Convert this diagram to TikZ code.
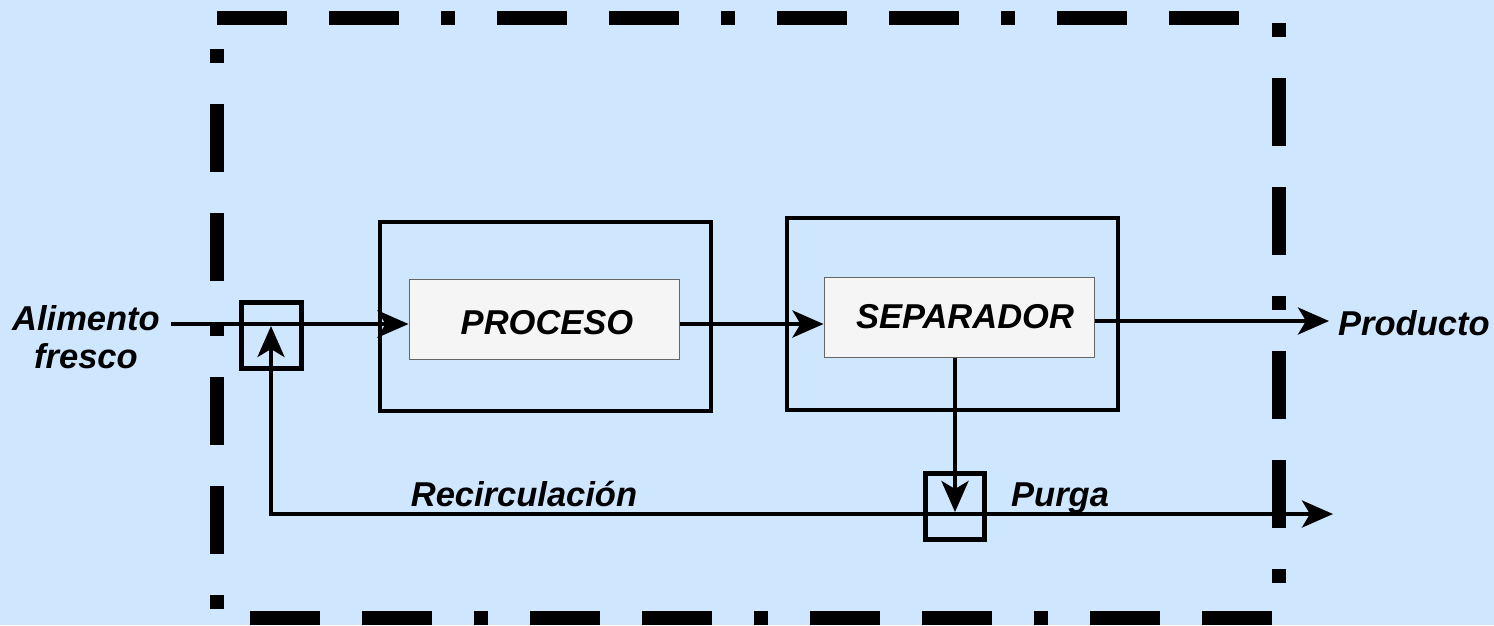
\documentclass[tikz,border=0pt]{standalone}
\usepackage{fontspec}
\setmainfont{Liberation Sans}
\usetikzlibrary{arrows.meta}
\definecolor{bgblue}{RGB}{207,230,255}
\definecolor{boxfill}{RGB}{245,245,245}
\definecolor{boxline}{RGB}{102,102,102}
\begin{document}
\begin{tikzpicture}[x=1pt,y=-1pt,
  lbl/.style={font=\fontsize{34.5}{38}\selectfont\bfseries\itshape, inner sep=0pt},
  unit/.style={draw=boxline, line width=1pt, fill=boxfill, minimum width=270pt, minimum height=80pt, inner sep=0pt},
  frame/.style={draw=black, line width=4pt, minimum width=331pt, inner sep=0pt},
  mixbox/.style={draw=black, line width=5pt, inner sep=0pt},
  flow/.style={draw=black, line width=4pt, -{Stealth[length=31pt,width=27pt,inset=8pt]}},
  border/.style={line width=14pt, draw=black},
  dashA/.style={dash pattern=on 70pt off 42pt on 70pt off 42pt on 14pt off 42pt},
  dashB/.style={dash pattern=on 14pt off 41pt on 68pt off 41pt on 68pt off 41pt}
]
\useasboundingbox[fill=bgblue] (0,0) rectangle (1494,625);

% system boundary
\draw[border, dashA] (217,18) -- (1279,18);
\draw[border, dashB] (1279,23) -- (1279,611);
\draw[border, dashB] (216.5,49) -- (216.5,611);
\draw[border, dashA] (250,618) -- (1279,618);

% blocks
\node[frame, minimum height=189pt] (procFrame) at (545.5,316.5) {};
\node[frame, minimum height=192pt] (sepFrame) at (952.5,314) {};
\node[unit, lbl] (proc) at (544,319) {\hspace*{6pt}\raisebox{-3.5pt}[\height][\depth]{PROCESO}};
\node[unit, lbl] (sep) at (959,317) {\hspace*{12pt}SEPARADOR};
\node[mixbox, minimum width=60pt, minimum height=66pt] (mixer) at (271,335.5) {};
\node[mixbox, minimum width=59pt, minimum height=66pt] (purge) at (955,506.5) {};

% labels
\node[lbl, align=center] (feedLbl) at (86,337) {Alimento\\fresco};
\node[lbl, anchor=base west] (prodLbl) at (1338,335) {Producto};
\node[lbl, anchor=base] (recLbl) at (524,506) {Recirculación};
\node[lbl, anchor=base west] (purLbl) at (1011,506) {Purga};

% free ends
\coordinate (feedStart) at (171,324);
\coordinate (prodEnd) at (1329,321);
\coordinate (purgeEnd) at (1333,514);

% streams
\draw[flow] (feedStart) -- (feedStart -| proc.west);
\draw[flow] (proc.east |- feedStart) -- (sep.west |- feedStart);
\draw[flow] (sep.east |- prodEnd) -- (prodEnd);
\draw[flow, shorten >=2pt] (purge.center |- sep.south) -- (purge.center |- purgeEnd);
\draw[flow] (purge.center |- purgeEnd) -- (purgeEnd);
\draw[flow, shorten >=2pt] (purge.center |- purgeEnd) -| (mixer.center |- feedStart);
\end{tikzpicture}
\end{document}
